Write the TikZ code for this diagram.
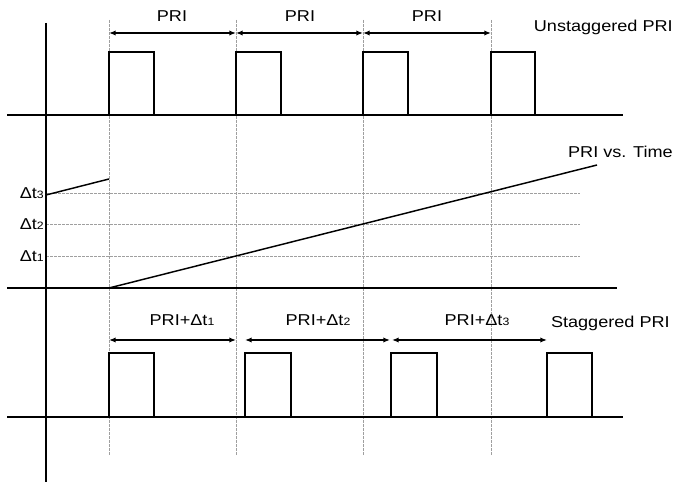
\documentclass[tikz,border=0pt]{standalone}
\usepackage{fontspec}
\setmainfont{Liberation Sans}
\usetikzlibrary{arrows.meta,positioning}
\newcommand{\dt}[1]{Δt{\fontsize{8}{8}\selectfont #1}}

\begin{document}
\begin{tikzpicture}[
  x=0.75pt, y=-0.75pt,
  lbl/.style={font=\fontsize{11.8}{14}\selectfont, inner sep=0pt, xscale=1.15},
  axis/.style={line width=1.5pt},
  pulse/.style={line width=1.1pt},
  span/.style={{Latex[length=5pt,width=4pt]}-{Latex[length=5pt,width=4pt]}, line width=1pt},
  grid/.style={draw=gray!75, line width=0.6pt, dash pattern=on 2pt off 1pt},
  ramp/.style={line width=1.1pt}
]
\useasboundingbox (0,0) rectangle (676,484);

% ================= Axes =================
\coordinate (ytop) at (46,23);
\coordinate (ybot) at (46,482);
\coordinate (b1l) at (7,115);  \coordinate (b1r) at (623,115);
\coordinate (b2l) at (7,288);  \coordinate (b2r) at (617,288);
\coordinate (b3l) at (7,417);  \coordinate (b3r) at (623,417);

% ================= Grid =================
\coordinate (d1t) at (109,20); \coordinate (d1b) at (109,455);
\coordinate (d2t) at (236,20); \coordinate (d2b) at (236,455);
\coordinate (d3t) at (363,20); \coordinate (d3b) at (363,455);
\coordinate (d4t) at (491,20); \coordinate (d4b) at (491,455);
\coordinate (h1l) at (46,256); \coordinate (h1r) at (580,256);
\coordinate (h2l) at (46,224); \coordinate (h2r) at (580,224);
\coordinate (h3l) at (46,193); \coordinate (h3r) at (580,193);

\draw[grid] (d1t) -- (d1b);
\draw[grid] (d2t) -- (d2b);
\draw[grid] (d3t) -- (d3b);
\draw[grid] (d4t) -- (d4b);
\draw[grid] (h1l) -- (h1r);
\draw[grid] (h2l) -- (h2r);
\draw[grid] (h3l) -- (h3r);

\draw[axis] (ytop) -- (ybot);
\draw[axis] (b1l) -- (b1r);
\draw[axis] (b2l) -- (b2r);
\draw[axis] (b3l) -- (b3r);

% ================= TOP: Unstaggered =================
\draw[pulse] (109,115) -- (109,52) -- (154,52) -- (154,115);
\draw[pulse] (236,115) -- (236,52) -- (281,52) -- (281,115);
\draw[pulse] (363,115) -- (363,52) -- (408,52) -- (408,115);
\draw[pulse] (491,115) -- (491,52) -- (535,52) -- (535,115);

\coordinate (a1) at (109,33);
\coordinate (a2) at (236,33);
\coordinate (a3) at (363,33);
\coordinate (a4) at (491,33);
\draw[span] (a1) -- (a2);
\draw[span] (a2) -- (a3);
\draw[span] (a3) -- (a4);

\node[lbl] (pri1) at (172,16) {PRI};
\node[lbl] (pri2) at (300,16) {PRI};
\node[lbl] (pri3) at (427,16) {PRI};
\node[lbl, anchor=east] (unst) at (673,27) {Unstaggered PRI};

% ================= MIDDLE: PRI vs. Time =================
\coordinate (r0) at (46,195);
\coordinate (r1) at (109,179);
\coordinate (r2) at (109,288);
\coordinate (r3) at (597,165);
\draw[ramp] (r0) -- (r1);
\draw[ramp] (r2) -- (r3);

\node[lbl, anchor=east] (dt3) at (44,193) {\dt{3}};
\node[lbl, anchor=east] (dt2) at (44,224) {\dt{2}};
\node[lbl, anchor=east] (dt1) at (44,256) {\dt{1}};
\node[lbl, anchor=east] (vst) at (673,152) {PRI vs. Time};

% ================= BOTTOM: Staggered =================
\draw[pulse] (109,417) -- (109,353) -- (154,353) -- (154,417);
\draw[pulse] (245,417) -- (245,353) -- (291,353) -- (291,417);
\draw[pulse] (391,417) -- (391,353) -- (437,353) -- (437,417);
\draw[pulse] (547,417) -- (547,353) -- (592,353) -- (592,417);

\coordinate (s1) at (109,340);
\coordinate (s2) at (236,340);
\coordinate (s3) at (245,340);
\coordinate (s4) at (390,340);
\coordinate (s5) at (392,340);
\coordinate (s6) at (547,340);
\draw[span] (s1) -- (s2);
\draw[span] (s3) -- (s4);
\draw[span] (s5) -- (s6);

\node[lbl] (spri1) at (182,320) {PRI+\dt{1}};
\node[lbl] (spri2) at (318,320) {PRI+\dt{2}};
\node[lbl] (spri3) at (477,320) {PRI+\dt{3}};
\node[lbl, anchor=east] (stag) at (670,323) {Staggered PRI};

\end{tikzpicture}
\end{document}
